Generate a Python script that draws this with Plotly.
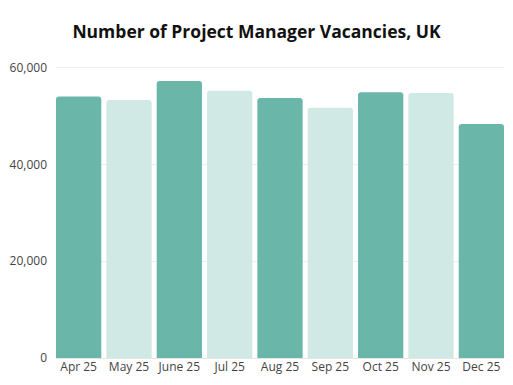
import plotly.graph_objects as go

months = ["Apr 25", "May 25", "June 25", "Jul 25", "Aug 25", "Sep 25", "Oct 25", "Nov 25", "Dec 25"]
vacancies = [54000, 53300, 57200, 55200, 53700, 51700, 54900, 54700, 48300]
dark = "#6AB7AA"
light = "#D1E9E4"
bar_colors = [dark if i % 2 == 0 else light for i in range(len(months))]
y_ticks = [0, 20000, 40000, 60000]
y_tick_labels = ["0", "20,000", "40,000", "60,000"]

fig = go.Figure(go.Bar(
    x=months, y=vacancies,
    marker=dict(color=bar_colors, cornerradius=3, line=dict(width=0)),
))
fig.update_layout(
    width=513, height=385,
    margin=dict(l=56, r=9, t=66, b=27, autoexpand=False),
    paper_bgcolor="white", plot_bgcolor="white",
    bargap=0.1,
    showlegend=False,
    title=dict(text="<b>Number of Project Manager Vacancies, UK</b>",
               x=0.5, xanchor="center", y=1 - 32 / 385, yanchor="middle",
               font=dict(family="Open Sans", size=17.5, color="#111111")),
    font=dict(family="Open Sans", size=12, color="#444444"),
)
fig.update_xaxes(range=[-0.45, 8.45], showgrid=False, ticks="", showline=False,
                 automargin=False, tickfont=dict(size=12, color="#444444"))
fig.update_yaxes(range=[0, 60300], tickvals=y_ticks, ticktext=y_tick_labels,
                 showgrid=True, gridcolor="#EEEEEE", gridwidth=1,
                 zeroline=True, zerolinecolor="#E6E6E6", zerolinewidth=1,
                 automargin=False,
                 ticks="", tickfont=dict(size=12, color="#444444"), ticklabelstandoff=8)
fig.write_html("out.html", config={"displayModeBar": False},
               post_script="document.body.style.margin='0';document.body.style.padding='0';document.body.style.overflow='hidden';")
